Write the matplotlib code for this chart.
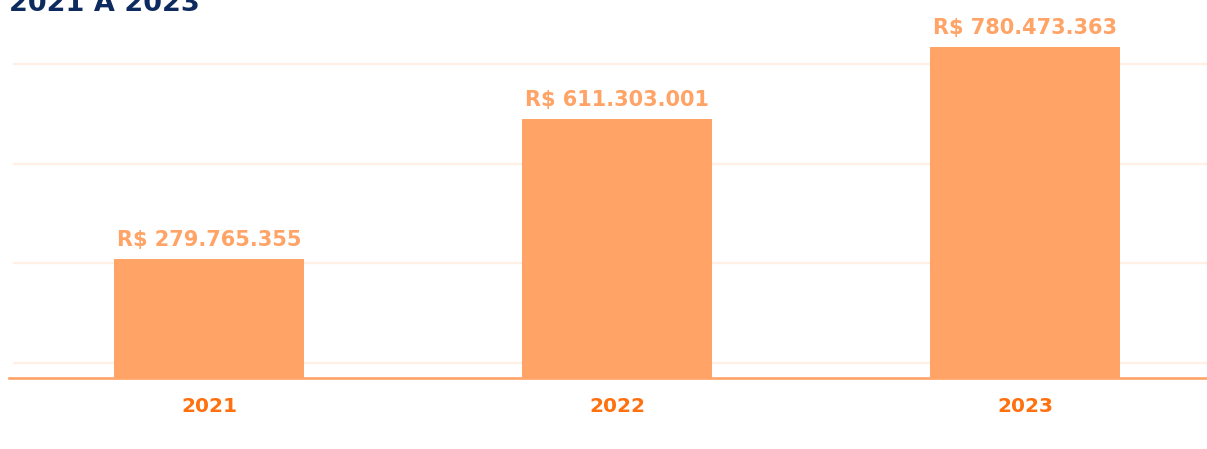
import numpy as np
import matplotlib
matplotlib.use("Agg")
import matplotlib.pyplot as plt

# data
anos = ["2021", "2022", "2023"]
valores = [279765355, 611303001, 780473363]
grade = [35e6, 270e6, 505e6, 740e6]   # faint guide lines
titulo = "2021 A 2023"

cor_barra = "#FFA366"
cor_ano = "#FF700F"
cor_grade = "#FFEFE5"
cor_titulo = "#0D2B5E"

plt.rcParams['font.family'] = ['DejaVu Sans']

fig = plt.figure(figsize=(12.07, 4.49), dpi=100)
ax = fig.add_axes([9 / 1207, 71 / 449, 1198 / 1207, 378 / 449])

x = np.arange(len(anos))
for g in grade:
    ax.axhline(g, xmin=0.004, color=cor_grade, linewidth=1.6, zorder=0)

bars = ax.bar(x, valores, width=0.466, color=cor_barra, zorder=2)
ax.axhline(0, color=cor_barra, linewidth=1.9, zorder=3, clip_on=False)

def fmt(v):
    return "R$ " + f"{v:,}".replace(",", ".")

for b, v in zip(bars, valores):
    ax.annotate(fmt(v), (b.get_x() + b.get_width() / 2, v),
                xytext=(0, 9.5), textcoords="offset points",
                ha="center", va="baseline", fontsize=15,
                fontweight="bold", color=cor_barra)

ax.set_xlim(-0.49, 2.446)
ax.set_ylim(0, 891.3e6)
ax.set_xticks(x, anos)
ax.tick_params(axis="x", length=0, pad=14, labelsize=14.5, labelcolor=cor_ano)
for t in ax.get_xticklabels():
    t.set_fontweight("bold")
ax.set_yticks([])
for s in ax.spines.values():
    s.set_visible(False)

fig.text(9 / 1207, 1 - 11 / 449, titulo, ha="left", va="baseline",
         fontsize=19.5, fontweight="bold", color=cor_titulo)

fig.savefig("out.png", dpi=100)
